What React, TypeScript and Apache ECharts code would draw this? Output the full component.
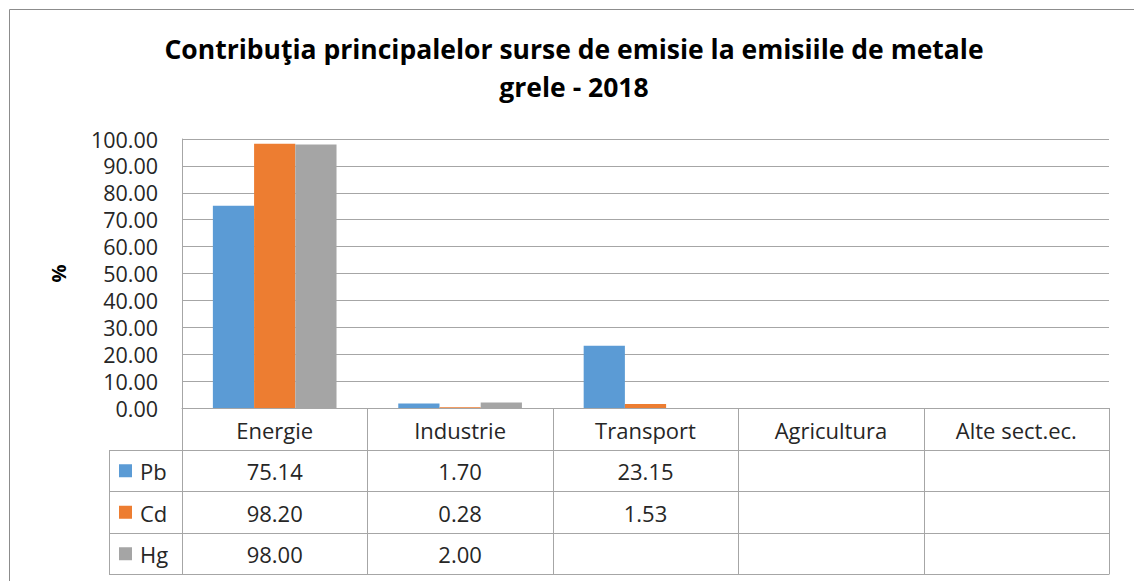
import React, { useEffect, useRef } from "react";
import * as echarts from "echarts";

const categories = ["Energie", "Industrie", "Transport", "Agricultura", "Alte sect.ec."];
const seriesNames = ["Pb", "Cd", "Hg"];
const pbValues: (number | null)[] = [75.14, 1.7, 23.15, null, null];
const cdValues: (number | null)[] = [98.2, 0.28, 1.53, null, null];
const hgValues: (number | null)[] = [98.0, 2.0, null, null, null];
const seriesColors = ["#5b9bd5", "#ed7d31", "#a5a5a5"];
const yMin = 0;
const yMax = 100;
const yInterval = 10;

const titleLines = ["Contribuţia principalelor surse de emisie la emisiile de metale", "grele - 2018"];

const W = 1134;
const H = 581;
const FONT = "'Open Sans', 'Noto Sans', sans-serif";

export default function App() {
  const ref = useRef<HTMLDivElement>(null);

  useEffect(() => {
    if (!ref.current) return;
    const chart = echarts.init(ref.current, null, { renderer: "svg" });

    const gridLeft = 182;
    const gridRight = 1109;
    const gridTop = 139;
    const gridBottom = 408;
    const rowH = 41.5;
    const legendLeft = 109;
    const tableBottom = gridBottom + rowH * 4;
    const lineColor = "#a6a6a6";
    const catW = (gridRight - gridLeft) / categories.length;
    const allValues = [pbValues, cdValues, hgValues];

    const graphics: any[] = [];
    // outer frame
    graphics.push({ type: "line", shape: { x1: 9.5, y1: 9.5, x2: W, y2: 9.5 }, style: { stroke: "#8c8c8c", lineWidth: 1 } });
    graphics.push({ type: "line", shape: { x1: 9.5, y1: 9.5, x2: 9.5, y2: H }, style: { stroke: "#8c8c8c", lineWidth: 1 } });

    // title
    titleLines.forEach((t, i) => {
      graphics.push({
        type: "text",
        x: 574,
        y: 49 + i * 38,
        style: { text: t, fill: "#000000", font: `bold 26.5px ${FONT}`, align: "center", verticalAlign: "middle" },
      });
    });

    // table horizontal lines
    for (let r = 1; r <= 4; r++) {
      const y = Math.round(gridBottom + rowH * r) + 0.5;
      graphics.push({ type: "line", shape: { x1: legendLeft, y1: y, x2: gridRight, y2: y }, style: { stroke: lineColor, lineWidth: 1 } });
    }
    // legend column left line
    graphics.push({ type: "line", shape: { x1: legendLeft + 0.5, y1: Math.round(gridBottom + rowH) + 0.5, x2: legendLeft + 0.5, y2: Math.round(tableBottom) + 0.5 }, style: { stroke: lineColor, lineWidth: 1 } });
    // vertical lines
    for (let c = 0; c <= categories.length; c++) {
      const x = Math.round(gridLeft + catW * c) + 0.5;
      graphics.push({ type: "line", shape: { x1: x, y1: gridBottom, x2: x, y2: Math.round(tableBottom) + 0.5 }, style: { stroke: lineColor, lineWidth: 1 } });
    }
    // header texts
    categories.forEach((cat, c) => {
      graphics.push({
        type: "text",
        x: gridLeft + catW * (c + 0.5),
        y: gridBottom + rowH / 2 + 1,
        style: { text: cat, fill: "#262626", font: `22px ${FONT}`, align: "center", verticalAlign: "middle" },
      });
    });
    // rows
    seriesNames.forEach((name, r) => {
      const cy = gridBottom + rowH * (r + 1.5);
      graphics.push({ type: "rect", shape: { x: 119, y: cy - 6, width: 13, height: 13 }, style: { fill: seriesColors[r] } });
      graphics.push({
        type: "text",
        x: 140,
        y: cy + 1,
        style: { text: name, fill: "#262626", font: `22px ${FONT}`, align: "left", verticalAlign: "middle" },
      });
      allValues[r].forEach((v, c) => {
        if (v === null) return;
        graphics.push({
          type: "text",
          x: gridLeft + catW * (c + 0.5),
          y: cy + 1,
          style: { text: v.toFixed(2), fill: "#262626", font: `22px ${FONT}`, align: "center", verticalAlign: "middle" },
        });
      });
    });

    chart.setOption({
      animation: false,
      backgroundColor: "#ffffff",
      grid: { left: gridLeft, right: W - gridRight, top: gridTop, bottom: H - gridBottom },
      xAxis: {
        type: "category",
        data: categories,
        axisLine: { lineStyle: { color: lineColor } },
        axisTick: { show: false },
        axisLabel: { show: false },
      },
      yAxis: {
        type: "value",
        min: yMin,
        max: yMax,
        interval: yInterval,
        name: "%",
        nameLocation: "middle",
        nameRotate: 90,
        nameGap: 114,
        nameTextStyle: { fontFamily: FONT, fontSize: 20, fontWeight: "bold", color: "#000" },
        axisLine: { show: true, lineStyle: { color: lineColor } },
        axisTick: { show: false },
        axisLabel: {
          margin: 24,
          fontFamily: FONT,
          fontSize: 21.5,
          lineHeight: 20,
          color: "#262626",
          formatter: (v: number) => v.toFixed(2),
        },
        splitLine: { lineStyle: { color: lineColor } },
      },
      series: seriesNames.map((name, i) => ({
        name,
        type: "bar",
        data: allValues[i],
        barGap: "0%",
        barCategoryGap: "33.3%",
        itemStyle: { color: seriesColors[i] },
      })),
      graphic: graphics,
    });

    return () => chart.dispose();
  }, []);

  return (
    <div
      ref={ref}
      style={{ position: "fixed", left: 0, top: 0, width: W, height: H, background: "#fff" }}
    />
  );
}
